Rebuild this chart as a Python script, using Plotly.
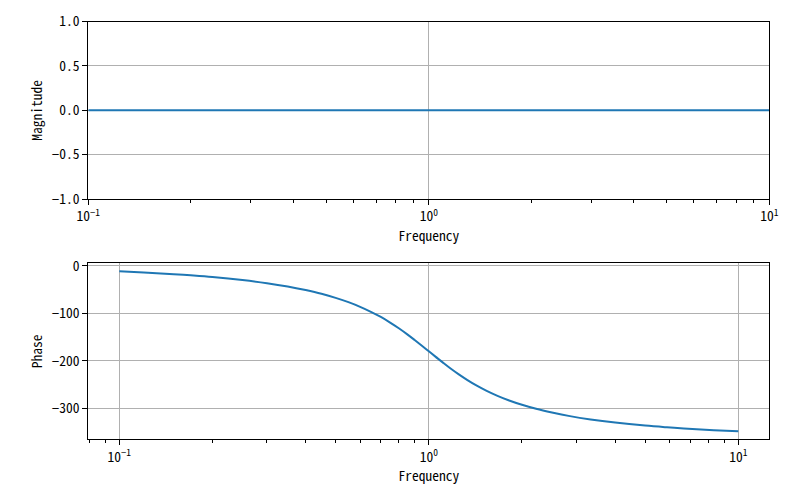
import plotly.graph_objects as go

# Frequencies (rad/s) and values
freq = [0.1, 0.12, 0.15, 0.17, 0.2, 0.25, 0.3, 0.35, 0.4, 0.45, 0.5, 0.55, 0.6, 0.65,
        0.7, 0.75, 0.8, 0.85, 0.9, 0.95, 1.0, 1.053, 1.111, 1.176, 1.25, 1.333,
        1.429, 1.538, 1.667, 1.818, 2.0, 2.222, 2.5, 2.857, 3.333, 4.0, 5.0,
        5.88, 6.667, 8.333, 10.0]
magnitude = [0.0] * len(freq)
phase = [-11.5, -13.9, -17.5, -19.9, -23.5, -29.9, -36.5, -43.5, -51.1, -58.9, -67.4,
         -76.5, -86.3, -96.8, -107.7, -119.5, -131.5, -143.8, -156.2, -168.3, -180.0,
         -191.7, -203.8, -216.2, -228.5, -240.5, -252.3, -263.2, -273.7, -283.5,
         -292.6, -301.1, -308.9, -316.5, -323.5, -330.1, -336.5, -340.1, -342.5,
         -346.1, -348.5]

major_vals = [0.1, 1, 10]
major_text = ["10<sup>−1</sup>", "10<sup>0</sup>", "10<sup>1</sup>"]
minor_vals = [0.08, 0.09, 0.2, 0.3, 0.4, 0.5, 0.6, 0.7, 0.8, 0.9,
              2, 3, 4, 5, 6, 7, 8, 9]

FONT = "Noto Sans Mono CJK SC, DejaVu Sans Mono, monospace"
BLUE = "#1f77b4"
GRID = "#b0b0b0"

fig = go.Figure()
fig.add_trace(go.Scatter(x=freq, y=magnitude, mode="lines",
                         line=dict(color=BLUE, width=2), xaxis="x", yaxis="y",
                         showlegend=False))
fig.add_trace(go.Scatter(x=freq, y=phase, mode="lines", line_shape="spline",
                         line=dict(color=BLUE, width=2), xaxis="x2", yaxis="y2",
                         showlegend=False))

common_x = dict(type="log", showline=True, mirror=True, linecolor="black", linewidth=1,
                automargin=False,
                ticks="outside", ticklen=5, tickcolor="black", tickwidth=1,
                showgrid=True, gridcolor=GRID, gridwidth=1, zeroline=False,
                tickvals=major_vals, ticktext=major_text,
                tickfont=dict(family=FONT, size=13.5, color="black"),
                minor=dict(tickvals=minor_vals, ticks="outside", ticklen=3,
                           tickcolor="black", tickwidth=1, showgrid=False),
                title=dict(text="Frequency", font=dict(family=FONT, size=13.5, color="black"),
                           standoff=4))
common_y = dict(showline=True, mirror=True, linecolor="black", linewidth=1,
                automargin=False,
                ticks="outside", ticklen=5, tickcolor="black", tickwidth=1,
                showgrid=True, gridcolor=GRID, gridwidth=1, zeroline=False,
                tickfont=dict(family=FONT, size=13.5, color="black"))

fig.update_layout(
    width=800, height=500, margin=dict(l=0, r=0, t=0, b=0),
    paper_bgcolor="white", plot_bgcolor="white",
    xaxis=dict(common_x, domain=[0.1104, 0.9616], range=[-1, 1], anchor="y"),
    yaxis=dict(common_y, domain=[0.602, 0.957], range=[-1, 1], anchor="x",
               tickvals=[-1, -0.5, 0, 0.5, 1], tickformat=".1f",
               title=dict(text="Magnitude", font=dict(family=FONT, size=13.5, color="black"),
                          standoff=6)),
    xaxis2=dict(common_x, domain=[0.1104, 0.9616], range=[-1.1, 1.1], anchor="y2"),
    yaxis2=dict(common_y, domain=[0.1214, 0.4734], range=[-365.3, 5.35], anchor="x2",
                tickvals=[-300, -200, -100, 0],
                title=dict(text="Phase", font=dict(family=FONT, size=13.5, color="black"),
                           standoff=6)),
)

fig.write_html("out.html")
